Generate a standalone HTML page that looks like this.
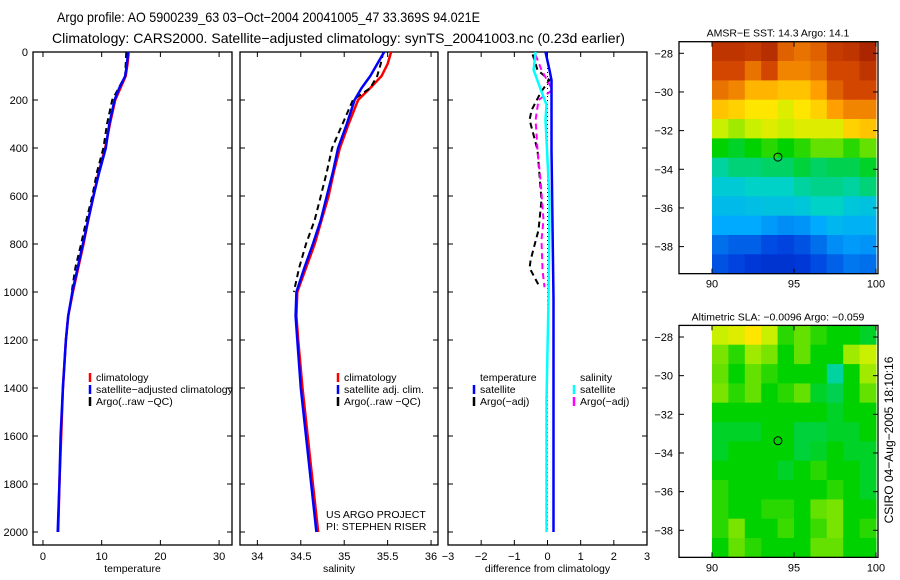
<!DOCTYPE html>
<html><head><meta charset="utf-8"><style>
body{margin:0;background:#fff;}
svg{display:block;font-family:"Liberation Sans",sans-serif;}
text{fill:#000;}
</style></head><body>
<svg id="fig" width="900" height="580" viewBox="0 0 900 580" xmlns="http://www.w3.org/2000/svg">
<text x="57" y="22" font-size="14" textLength="423" lengthAdjust="spacingAndGlyphs">Argo profile: AO 5900239_63 03−Oct−2004 20041005_47 33.369S 94.021E</text>
<text x="52" y="43" font-size="14" textLength="573" lengthAdjust="spacingAndGlyphs">Climatology: CARS2000. Satellite−adjusted climatology: synTS_20041003.nc (0.23d earlier)</text>
<g id="plots"></g>
<text font-size="12" transform="translate(893,440) rotate(-90)" text-anchor="middle">CSIRO 04−Aug−2005 18:10:16</text>
</svg>
<script>
// ---- profile data ----
const tDepth=[0,50,100,150,200,300,400,500,600,700,800,900,1000,1100,1200,1400,1600,1800,2000];
const tClim=[14.6,14.4,14.1,13.2,12.3,11.4,10.6,9.5,8.6,7.7,6.9,6.0,5.1,4.3,3.9,3.4,3.1,2.8,2.6];
const tSat=[14.5,14.3,14.0,13.0,12.2,11.3,10.7,9.6,8.6,7.7,6.8,5.9,5.0,4.3,3.9,3.4,3.0,2.8,2.5];
const argoDepth=[0,50,100,150,200,300,400,500,600,700,800,900,1000];
const tArgo=[14.2,14.1,14.0,12.9,11.8,10.9,10.3,9.2,8.4,7.4,6.5,5.5,4.9];
const sClim=[35.54,35.5,35.43,35.3,35.16,35.05,34.95,34.88,34.82,34.74,34.66,34.56,34.46,34.45,34.47,34.52,34.58,34.64,34.7];
const sSat=[35.46,35.38,35.3,35.2,35.12,35.03,34.93,34.87,34.8,34.73,34.64,34.54,34.45,34.44,34.46,34.5,34.56,34.62,34.68];
const sArgo=[35.45,35.42,35.38,35.3,35.1,34.98,34.86,34.8,34.73,34.66,34.56,34.48,34.42];
const argoTDepth=[10,75,117,167,242,283,408,512,617,742,867,900,970];
const argoTDiff=[-0.45,-0.3,0.06,-0.2,-0.48,-0.54,-0.3,-0.24,-0.18,-0.27,-0.51,-0.54,-0.27];
const argoSDepth=[12,75,158,200,283,408,533,700,783,908,980];
const argoSDiff=[-0.36,-0.18,0.15,-0.27,-0.36,-0.3,-0.21,-0.12,-0.18,-0.15,-0.09];
const satSDepth=[0,75,158,220,283,617,1030,1450,2000];
const satSDiff=[-0.36,-0.42,-0.2,-0.03,-0.06,0.06,0.03,-0.03,-0.03];
const satTDepth=[0,75,117,408,1030,2000];
const satTDiff=[-0.06,0.06,0.12,0.12,0.18,0.18];
const depthTicks=[0,200,400,600,800,1000,1200,1400,1600,1800,2000];
const tTicks=[0,10,20,30];
const sTicks=[34,34.5,35,35.5,36];
const dTicks=[-3,-2,-1,0,1,2,3];
// ---- map data (1 degree cells, rows from -27.4 southward, cols from 90E) ----
const sstGrid=[
[0.9,0.9,0.88,0.92,0.82,0.8,0.82,0.88,0.9,0.95],
[0.85,0.85,0.8,0.85,0.78,0.78,0.8,0.85,0.85,0.9],
[0.8,0.78,0.72,0.72,0.7,0.7,0.75,0.82,0.85,0.85],
[0.7,0.68,0.65,0.65,0.62,0.65,0.68,0.75,0.78,0.78],
[0.6,0.58,0.6,0.62,0.6,0.62,0.62,0.62,0.68,0.7],
[0.5,0.48,0.5,0.52,0.5,0.52,0.55,0.55,0.52,0.55],
[0.42,0.44,0.44,0.45,0.45,0.47,0.45,0.46,0.46,0.48],
[0.38,0.38,0.4,0.4,0.4,0.42,0.43,0.43,0.42,0.44],
[0.34,0.34,0.35,0.36,0.36,0.37,0.4,0.4,0.37,0.36],
[0.3,0.3,0.3,0.28,0.26,0.27,0.3,0.33,0.32,0.32],
[0.22,0.2,0.2,0.17,0.16,0.18,0.22,0.26,0.28,0.27],
[0.18,0.16,0.14,0.13,0.13,0.14,0.17,0.2,0.23,0.22]];
const slaGrid=[
[0.6,0.62,0.65,0.6,0.52,0.55,0.52,0.5,0.5,0.48],
[0.56,0.52,0.58,0.56,0.5,0.55,0.5,0.5,0.58,0.6],
[0.55,0.5,0.55,0.52,0.5,0.5,0.5,0.42,0.5,0.58],
[0.56,0.52,0.55,0.5,0.52,0.55,0.48,0.46,0.5,0.55],
[0.5,0.5,0.5,0.5,0.5,0.5,0.5,0.48,0.5,0.5],
[0.48,0.48,0.48,0.5,0.5,0.47,0.47,0.48,0.48,0.5],
[0.48,0.5,0.5,0.5,0.5,0.47,0.48,0.5,0.48,0.48],
[0.5,0.5,0.5,0.5,0.48,0.5,0.52,0.5,0.5,0.48],
[0.52,0.5,0.5,0.5,0.5,0.5,0.5,0.52,0.5,0.48],
[0.52,0.5,0.5,0.52,0.52,0.5,0.55,0.56,0.5,0.5],
[0.52,0.56,0.5,0.5,0.53,0.5,0.53,0.56,0.5,0.52],
[0.5,0.55,0.52,0.5,0.5,0.5,0.55,0.55,0.5,0.5]];
const latTicks=[-28,-30,-32,-34,-36,-38];
const lonTicks=[90,95,100];
const floatLon=94.02, floatLat=-33.37;

const NS="http://www.w3.org/2000/svg";
const root=document.getElementById('plots');
function mk(tag,attrs,parent){const e=document.createElementNS(NS,tag);for(const k in attrs)e.setAttribute(k,attrs[k]);(parent||root).appendChild(e);return e;}
function txt(s,x,y,anchor,size,parent){const e=mk('text',{x:x,y:y,'text-anchor':anchor||'start','font-size':size||11},parent);e.textContent=s;return e;}

const Y=d=>52+d*0.24;
const panels=[
 {name:'temperature-panel',x0:33,x1:232,vmin:-1.7,vmax:32.2,ticks:tTicks,label:'temperature',ylabels:true},
 {name:'salinity-panel',x0:240,x1:438,vmin:33.8,vmax:36.08,ticks:sTicks,label:'salinity'},
 {name:'difference-panel',x0:448,x1:647,vmin:-3,vmax:3,ticks:dTicks,label:'difference from climatology'}];
panels.forEach(p=>{p.X=v=>p.x0+(v-p.vmin)/(p.vmax-p.vmin)*(p.x1-p.x0);});
const yBot=545;
panels.forEach(p=>{
  const g=mk('g',{});
  
  
  const r=mk('rect',{x:p.x0,y:52,width:p.x1-p.x0,height:yBot-52,fill:'none',stroke:'#000','stroke-width':1.3},g);
  
  
  depthTicks.forEach(d=>{
    mk('line',{x1:p.x0,x2:p.x0+5,y1:Y(d),y2:Y(d),stroke:'#000'},g);
    mk('line',{x1:p.x1,x2:p.x1-5,y1:Y(d),y2:Y(d),stroke:'#000'},g);
    if(p.ylabels){const t=txt(String(d),28,Y(d)+4,'end',11,g);
      
      }
  });
  p.ticks.forEach(v=>{
    const x=p.X(v);
    mk('line',{x1:x,x2:x,y1:52,y2:57,stroke:'#000'},g);
    mk('line',{x1:x,x2:x,y1:yBot,y2:yBot-5,stroke:'#000'},g);
    const t=txt(String(v).replace('-','−'),x,560,'middle',11,g);
    
    
  });
  const xl=txt(p.label,(p.x0+p.x1)/2,572,'middle',10.5,g);
  
  
});
function line(p,vals,depths,color,w,dash,name){
  const pts=vals.map((v,i)=>p.X(v).toFixed(1)+','+Y(depths[i]).toFixed(1)).join(' ');
  const a={points:pts,fill:'none',stroke:color,'stroke-width':w,'stroke-linejoin':'round'};
  if(dash)a['stroke-dasharray']=dash;
  const e=mk('polyline',a);
  
  
}
const [P1,P2,P3]=panels;
line(P1,tClim,tDepth,'#f00',2.5,null,'temperature-climatology-line');
line(P1,tArgo,argoDepth,'#000',2,'6,4','temperature-argo-line');
line(P1,tSat,tDepth,'#00f',2.5,null,'temperature-satellite-line');
line(P2,sClim,tDepth,'#f00',2.5,null,'salinity-climatology-line');
line(P2,sArgo,argoDepth,'#000',2,'6,4','salinity-argo-line');
line(P2,sSat,tDepth,'#00f',2.5,null,'salinity-satellite-line');
const zl=mk('line',{x1:P3.X(0),x2:P3.X(0),y1:52,y2:Y(2000),stroke:'#000','stroke-dasharray':'1,3'});


line(P3,argoTDiff,argoTDepth,'#000',2,'6,4','temperature-argo-diff-line');
line(P3,argoSDiff,argoSDepth,'#f0f',2,'6,4','salinity-argo-diff-line');
line(P3,satSDiff,satSDepth,'#0ff',2.5,null,'salinity-satellite-diff-line');
line(P3,satTDiff,satTDepth,'#00f',2.5,null,'temperature-satellite-diff-line');

function legend(x,y,items){
  items.forEach((it,i)=>{
    const yy=y+i*12;
    if(it[1]){const b=mk('line',{x1:x,x2:x,y1:yy-8,y2:yy+1,stroke:it[1],'stroke-width':2.5});
      
      }
    const t=txt(it[0],x+6,yy,'start',10.5);
    
    
  });
}
legend(90,381,[['climatology','#f00'],['satellite−adjusted climatology','#00f'],['Argo(..raw −QC)','#000']]);
legend(338,381,[['climatology','#f00'],['satellite adj. clim.','#00f'],['Argo(..raw −QC)','#000']]);
legend(474,381,[['temperature',null],['satellite','#00f'],['Argo(−adj)','#000']]);
legend(574,381,[['salinity',null],['satellite','#0ff'],['Argo(−adj)','#f0f']]);
const pr1=txt('US ARGO PROJECT',326,518,'start',10.5);


const pr2=txt('PI: STEPHEN RISER',326,530,'start',10.5);



// colormap
const cmapStops=[[0,0,0,140],[0.15,0,60,220],[0.3,0,170,255],[0.4,0,210,200],[0.5,0,210,0],[0.6,200,240,0],[0.65,255,230,0],[0.75,255,160,0],[0.85,210,70,0],[1,150,20,0]];
function jet(v){
  v=Math.max(0,Math.min(1,v));
  for(let i=1;i<cmapStops.length;i++){
    const a=cmapStops[i-1],b=cmapStops[i];
    if(v<=b[0]){const t=(v-a[0])/(b[0]-a[0]);
      return 'rgb('+[1,2,3].map(k=>Math.round(a[k]+(b[k]-a[k])*t)).join(',')+')';}
  }
  return 'rgb(150,20,0)';
}
function map(name,grid,top,title){
  const g=mk('g',{});
  
  
  const LX=lon=>712+(lon-90)*16.4;
  const LY=lat=>top+(-28-lat)*19.33;
  grid.forEach((row,ri)=>row.forEach((v,ci)=>{
    const lat0=-27.4-ri, lon0=90+ci;
    const c=mk('rect',{x:LX(lon0).toFixed(1),y:LY(lat0).toFixed(1),width:16.9,height:19.8,fill:jet(v)},g);
    
    
  }));
  const yT=LY(-27.4), yB=LY(-39.4);
  mk('rect',{x:679,y:yT,width:199,height:yB-yT,fill:'none',stroke:'#000','stroke-width':1.3},g);
  latTicks.forEach(l=>{
    mk('line',{x1:679,x2:684,y1:LY(l),y2:LY(l),stroke:'#000'},g);
    mk('line',{x1:878,x2:873,y1:LY(l),y2:LY(l),stroke:'#000'},g);
    const t=txt(String(l).replace('-','−'),673,LY(l)+4,'end',11,g);
    
    
  });
  lonTicks.forEach(l=>{
    mk('line',{x1:LX(l),x2:LX(l),y1:yT,y2:yT+5,stroke:'#000'},g);
    mk('line',{x1:LX(l),x2:LX(l),y1:yB,y2:yB-5,stroke:'#000'},g);
    const t=txt(String(l),LX(l),yB+14,'middle',11,g);
    
    
  });
  const c=mk('circle',{cx:LX(floatLon),cy:LY(floatLat),r:4,fill:'none',stroke:'#000','stroke-width':1},g);
  
  
  const t=txt(title,778,yT-5,'middle',10.5,g);
  
  
}
map('sst-map',sstGrid,53.3,'AMSR−E SST: 14.3 Argo: 14.1');
map('sla-map',slaGrid,337,'Altimetric SLA: −0.0096 Argo: −0.059');
</script>
</body></html>
